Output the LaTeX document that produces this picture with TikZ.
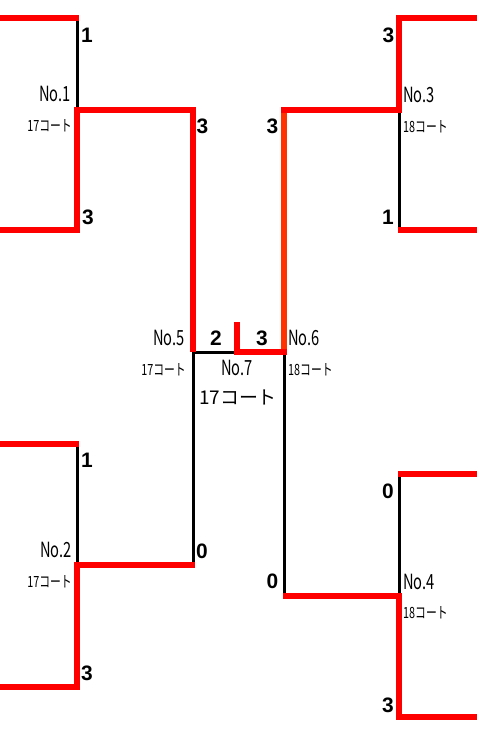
\documentclass[tikz,border=0pt]{standalone}
\usepackage{fontspec}
\setmainfont{Liberation Sans}
\newfontfamily\jpn[FakeStretch=0.7]{Noto Sans CJK JP}
\newfontfamily\jpw{Noto Sans CJK JP}
\usepackage{tikz}
\usepackage{xcolor}
\definecolor{winred}{RGB}{255,0,0}
\definecolor{winorange}{RGB}{255,51,0}

\tikzset{
  lose/.style={black,line width=3bp},
  win/.style={winred,line width=6bp,line join=miter},
  score/.style={font=\fontsize{21}{21}\selectfont\bfseries,inner sep=0pt},
  matchno/.style={font=\jpn\fontsize{21}{21}\selectfont,inner sep=0pt},
  court/.style={font=\jpn\fontsize{15.5}{15.5}\selectfont,inner sep=0pt},
  bigcourt/.style={font=\jpw\fontsize{19}{19}\selectfont,inner sep=0pt}
}

\begin{document}
\begin{tikzpicture}[x=1bp,y=-1bp]
  \useasboundingbox (0,0) rectangle (477,743);
  \pgfmathsetmacro{\xa}{77}
  \pgfmathsetmacro{\xb}{193}
  \pgfmathsetmacro{\xc}{284}
  \pgfmathsetmacro{\xd}{399}

  \coordinate (e1) at (0,18);   \coordinate (e2) at (0,230);
  \coordinate (e3) at (0,444);  \coordinate (e4) at (0,687);
  \coordinate (e5) at (477,18); \coordinate (e6) at (477,230);
  \coordinate (e7) at (477,474);\coordinate (e8) at (477,717);

  \coordinate (m1t) at (\xa,18);  \coordinate (m1) at (\xa,110); \coordinate (m1b) at (\xa,230);
  \coordinate (m2t) at (\xa,444); \coordinate (m2) at (\xa,565); \coordinate (m2b) at (\xa,687);
  \coordinate (m5t) at (\xb,110); \coordinate (m5) at (\xb,352); \coordinate (m5b) at (\xb,565);
  \coordinate (m3t) at (\xd,18);  \coordinate (m3) at (\xd,110); \coordinate (m3b) at (\xd,230);
  \coordinate (m4t) at (\xd,474); \coordinate (m4) at (\xd,596); \coordinate (m4b) at (\xd,717);
  \coordinate (m6t) at (\xc,110); \coordinate (m6) at (\xc,352); \coordinate (m6b) at (\xc,596);
  \coordinate (m7t) at (237,322); \coordinate (m7) at (237,352);

  \draw[lose] (m1t) -- (m1);
  \draw[lose] (m2t) -- (m2);
  \draw[lose] (m5b) -- (m5) -- (m7);
  \draw[lose] (m3) -- (m3b);
  \draw[lose] (m4t) -- (m4);
  \draw[lose] (m6b) -- (m6);

  \draw[win,winorange] (m6t) -- (m6);
  \draw[win,shorten >=-1.5bp] (e1) -- (m1t);
  \draw[win] (e2) -- (m1b) -- (m1) -- (m5t) -- (m5);
  \draw[win,shorten >=-1.5bp] (e3) -- (m2t);
  \draw[win,shorten >=-1.5bp] (e4) -- (m2b) -- (m2) -- (m5b);
  \draw[win,shorten >=-3bp] (e5) -- (m3t) -- (m3) -- (m6t);
  \draw[win,shorten <=-1.5bp] (m3b) -- (e6);
  \draw[win,shorten >=-1.5bp] (e7) -- (m4t);
  \draw[win,shorten >=-1.5bp] (e8) -- (m4b) -- (m4) -- (m6b);
  \draw[win,shorten <=-3bp] (m6) -- (m7) -- (m7t);

  \node[score] (s1a) at (87,35) {1};
  \node[score] (s1b) at (88,217) {3};
  \node[score] (s2a) at (87,460) {1};
  \node[score] (s2b) at (87,673) {3};
  \node[score] (s5a) at (202.5,126) {3};
  \node[score] (s5b) at (202,551) {0};
  \node[score] (s7a) at (216,338) {2};
  \node[score] (s7b) at (262,338) {3};
  \node[score] (s3a) at (388.5,35) {3};
  \node[score] (s3b) at (388,217) {1};
  \node[score] (s4a) at (388,491) {0};
  \node[score] (s4b) at (388,705) {3};
  \node[score] (s6a) at (272.5,126) {3};
  \node[score] (s6b) at (272.5,581) {0};

  \node[matchno,anchor=east] (n1) at (71,94) {No.1};
  \node[court,anchor=east] (c1) at (72,126) {17コート};
  \node[matchno,anchor=east] (n2) at (72,550) {No.2};
  \node[court,anchor=east] (c2) at (72,582) {17コート};
  \node[matchno,anchor=east] (n5) at (185,338) {No.5};
  \node[court,anchor=east] (c5) at (186,370) {17コート};
  \node[matchno,anchor=west] (n3) at (403,95) {No.3};
  \node[court,anchor=west] (c3) at (403,127) {18コート};
  \node[matchno,anchor=west] (n4) at (403,582) {No.4};
  \node[court,anchor=west] (c4) at (403,613) {18コート};
  \node[matchno,anchor=west] (n6) at (288,338) {No.6};
  \node[court,anchor=west] (c6) at (288,370) {18コート};
  \node[matchno] (n7) at (237,368) {No.7};
  \node[bigcourt] (c7) at (238,397) {17コート};
\end{tikzpicture}
\end{document}
